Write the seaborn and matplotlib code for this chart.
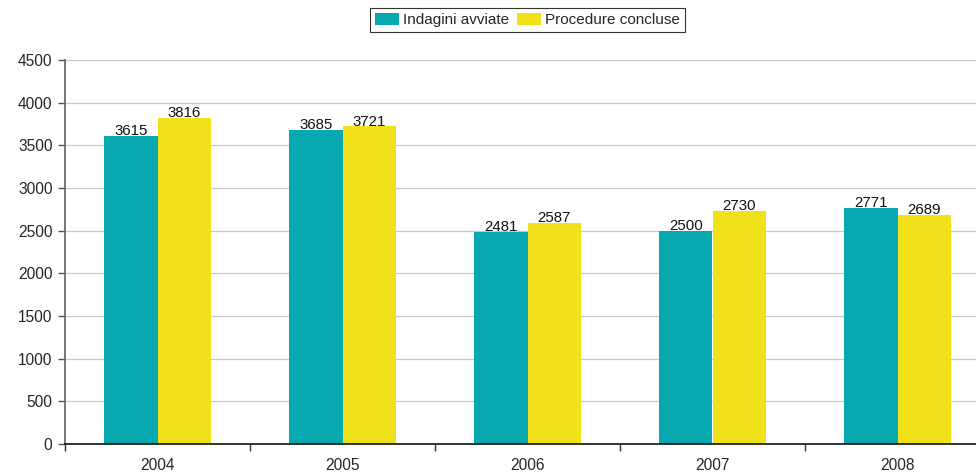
import matplotlib
matplotlib.use("Agg")
import matplotlib.pyplot as plt
import seaborn as sns
import pandas as pd

years = ["2004", "2005", "2006", "2007", "2008"]
indagini = [3615, 3685, 2481, 2500, 2771]
procedure = [3816, 3721, 2587, 2730, 2689]
series_names = ["Indagini avviate", "Procedure concluse"]
yticks = [0, 500, 1000, 1500, 2000, 2500, 3000, 3500, 4000, 4500]

df = pd.DataFrame({
    "year": years * 2,
    "value": indagini + procedure,
    "series": [series_names[0]] * len(years) + [series_names[1]] * len(years),
})

sns.set_theme(style="white")
plt.rcParams["font.family"] = ["Liberation Sans", "DejaVu Sans"]

FS = 11.2
fig = plt.figure(figsize=(9.76, 4.73), dpi=100)
W, H = 976, 473
ax = fig.add_axes([65 / W, 1 - 444 / H, (990 - 65) / W, (444 - 60) / H])

palette = {series_names[0]: "#08A8B0", series_names[1]: "#F0E11A"}
sns.barplot(data=df, x="year", y="value", hue="series", palette=palette,
            width=0.575, gap=0, saturation=1, ax=ax, order=years,
            hue_order=series_names, legend=True, linewidth=0, edgecolor="none")

for c in ax.containers:
    ax.bar_label(c, fmt="%d", padding=-1.5, fontsize=10.8, color="#111111")

ax.set_xlim(-0.5, 4.5)
ax.set_ylim(0, 4500)
ax.set_yticks(yticks)
ax.set_yticklabels([str(v) for v in yticks], fontsize=FS)
ax.yaxis.grid(True, color="#C8C8C8", linewidth=0.9)
ax.set_axisbelow(True)

ax.set_xticks([i - 0.5 for i in range(len(years) + 1)])
ax.set_xticklabels([""] * (len(years) + 1))
ax.set_xticks(range(len(years)), minor=True)
ax.set_xticklabels(years, minor=True, fontsize=FS)
ax.tick_params(axis="x", which="major", length=5, width=1, color="#333333", direction="out", bottom=True)
ax.tick_params(axis="x", which="minor", length=0, pad=10)
ax.tick_params(axis="y", length=5, width=1, color="#555555", direction="out", left=True, pad=4)

ax.set_xlabel("")
ax.set_ylabel("")
for s in ["top", "right"]:
    ax.spines[s].set_visible(False)
ax.spines["left"].set_color("#666666")
ax.spines["bottom"].set_color("#111111")
ax.spines["bottom"].set_linewidth(1.2)

leg = ax.legend(loc="upper center", bbox_to_anchor=(0.5, 1.135), ncol=2,
                frameon=True, fancybox=False, edgecolor="#333333", fontsize=11,
                handlelength=1.6, handleheight=0.9, handletextpad=0.25,
                columnspacing=0.5, borderpad=0.3, framealpha=1, borderaxespad=0)
leg.get_frame().set_linewidth(0.8)

fig.savefig("out.png", dpi=100)
